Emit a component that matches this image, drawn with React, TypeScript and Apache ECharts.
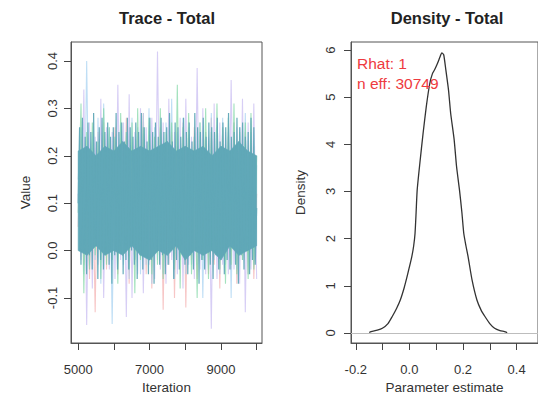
import React, { useEffect, useRef } from "react";
import * as echarts from "echarts";

// ---- Trace data (one array per chain) ----
const chainPink = [0.05, 0.24, -0.03, 0.22, -0.06, 0.21, -0.13, 0.25, 0.01, 0.27, -0.04, 0.2, 0.0, 0.26, -0.05, 0.23,
  0.02, 0.28, -0.07, 0.22, -0.02, 0.25, 0.03, 0.29, -0.05, 0.21, -0.08, 0.24, 0.0, 0.26, -0.125, 0.23,
  -0.03, 0.25, -0.1, 0.22, 0.01, 0.27, -0.12, 0.24, -0.02, 0.26, -0.06, 0.21, 0.0, 0.25, -0.05, 0.28,
  -0.03, 0.22, -0.08, 0.26, 0.02, 0.24, -0.04, 0.27, -0.07, 0.23, -0.02, 0.25, -0.05, 0.22, -0.06, 0.12];
const chainGreen = [0.08, 0.31, -0.09, 0.25, -0.04, 0.27, -0.01, 0.23, -0.06, 0.3, -0.03, 0.26, -0.02, 0.24, -0.07, 0.29,
  0.0, 0.25, -0.04, 0.27, -0.09, 0.3, -0.02, 0.26, 0.01, 0.28, -0.05, 0.24, -0.03, 0.3, -0.06, 0.25,
  0.0, 0.27, -0.04, 0.35, -0.08, 0.26, -0.01, 0.29, -0.05, 0.24, -0.1, 0.27, -0.02, 0.3, -0.06, 0.25,
  0.0, 0.31, -0.04, 0.26, -0.07, 0.28, -0.03, 0.31, -0.05, 0.25, -0.02, 0.27, -0.06, 0.29, -0.04, 0.2];
const chainLavender = [0.12, -0.02, 0.34, -0.157, 0.27, -0.08, 0.24, -0.03, 0.32, -0.1, 0.26, -0.04, 0.25, -0.06, 0.35, -0.02,
  0.27, -0.14, 0.33, -0.1, 0.25, -0.05, 0.3, -0.09, 0.26, -0.03, 0.28, -0.06, 0.42, -0.04, 0.27, -0.07,
  0.32, -0.02, 0.25, -0.05, 0.28, -0.08, 0.32, -0.03, 0.24, -0.06, 0.385, -0.04, 0.3, -0.05, 0.24, -0.165,
  0.31, -0.06, 0.27, -0.03, 0.25, -0.05, 0.36, -0.04, 0.26, -0.07, 0.32, -0.13, 0.27, -0.04, 0.31, -0.06];
const chainBlue = [0.15, 0.26, -0.05, 0.4, -0.03, 0.25, -0.02, 0.28, -0.07, 0.31, -0.01, 0.26, -0.155, 0.24, -0.04, 0.27,
  -0.03, 0.25, -0.06, 0.28, -0.02, 0.26, -0.05, 0.29, -0.03, 0.3, -0.07, 0.26, -0.02, 0.25, -0.05, 0.27,
  -0.03, 0.32, -0.06, 0.25, -0.02, 0.28, -0.05, 0.26, -0.03, 0.24, -0.03, 0.27, -0.1, 0.25, -0.04, 0.29,
  -0.02, 0.26, -0.05, 0.28, -0.03, 0.25, -0.1, 0.27, -0.04, 0.26, -0.02, 0.29, -0.05, 0.25, -0.03, 0.18];
const chainTeal = [0.1, 0.26, -0.03, 0.28, 0.0, 0.24, -0.05, 0.27, -0.01, 0.25, -0.04, 0.29, 0.01, 0.23, -0.06, 0.26,
  -0.02, 0.28, -0.04, 0.25, 0.0, 0.27, -0.03, 0.24, -0.07, 0.26, -0.01, 0.29, -0.04, 0.25, 0.01, 0.27,
  -0.05, 0.23, -0.02, 0.28, -0.04, 0.26, 0.0, 0.24, -0.03, 0.27, -0.06, 0.25, -0.01, 0.29, -0.04, 0.26,
  0.01, 0.23, -0.05, 0.28, -0.02, 0.25, -0.07, 0.27, 0.0, 0.24, -0.03, 0.28, -0.01, 0.25, -0.05, 0.26,
  -0.03, 0.29, 0.0, 0.23, -0.06, 0.27, -0.02, 0.26, -0.04, 0.24, 0.01, 0.28, -0.03, 0.25, -0.05, 0.27,
  -0.01, 0.23, -0.04, 0.29, 0.0, 0.26, -0.07, 0.25, -0.02, 0.28, -0.04, 0.24, 0.01, 0.27, -0.03, 0.26,
  -0.06, 0.25, -0.01, 0.28, -0.04, 0.23, 0.0, 0.27, -0.05, 0.26, -0.02, 0.29, -0.04, 0.24, 0.01, 0.25,
  -0.03, 0.28, -0.07, 0.26, -0.01, 0.27, -0.04, 0.24, 0.0, 0.25, -0.05, 0.28, -0.02, 0.26, -0.03, 0.09];
// dense core of the overlaid chains
const coreIter = [5001, 5250, 5500, 5750, 6000, 6250, 6500, 6750, 7000, 7250, 7500, 7750, 8000, 8250, 8500, 8750, 9000, 9250, 9500, 9750, 10000];
const coreLow = [0.0, -0.01, 0.01, -0.01, 0.0, -0.01, 0.01, -0.01, -0.02, 0.0, -0.01, 0.01, -0.02, 0.0, -0.01, 0.0, -0.02, 0.01, -0.01, 0.0, 0.01];
const coreHigh = [0.21, 0.22, 0.2, 0.22, 0.21, 0.23, 0.21, 0.22, 0.21, 0.22, 0.23, 0.21, 0.22, 0.21, 0.22, 0.2, 0.22, 0.21, 0.23, 0.21, 0.2];

const traceXTicks = [5000, 6000, 7000, 8000, 9000, 10000];
const traceXLabels = [5000, 7000, 9000];
const traceYTicks = [-0.1, 0.0, 0.1, 0.2, 0.3, 0.4];

// ---- Density data ----
const densX = [-0.15, -0.143, -0.12, -0.101, -0.08, -0.064, -0.048, -0.034, -0.02, -0.009, 0.0, 0.009, 0.016, 0.021, 0.025,
  0.029, 0.039, 0.051, 0.063, 0.076, 0.086, 0.094, 0.105, 0.114, 0.121, 0.128, 0.136, 0.146, 0.154, 0.167,
  0.176, 0.187, 0.196, 0.203, 0.211, 0.219, 0.234, 0.252, 0.268, 0.282, 0.3, 0.318, 0.338, 0.355, 0.365];
const densY = [0.01, 0.03, 0.06, 0.1, 0.2, 0.35, 0.52, 0.7, 0.95, 1.19, 1.4, 1.62, 1.85, 2.11, 2.55,
  3.03, 3.6, 4.23, 4.8, 5.29, 5.5, 5.58, 5.72, 5.85, 5.94, 5.9, 5.58, 5.15, 4.66, 4.1,
  3.53, 3.03, 2.55, 2.11, 1.85, 1.62, 1.12, 0.7, 0.48, 0.35, 0.2, 0.1, 0.05, 0.03, 0.01];
const densXTicks = [-0.2, -0.1, 0.0, 0.1, 0.2, 0.3, 0.4];
const densXLabels = [-0.2, 0.0, 0.2, 0.4];
const densYTicks = [0, 1, 2, 3, 4, 5, 6];

const rhatText = "Rhat: 1";
const neffText = "n eff: 30749";

const FONT = "'Liberation Sans', Arial, Helvetica, sans-serif";
const TEAL = "#60a8b7";

function toPairs(vals: number[]) {
  const n = vals.length;
  return vals.map((v, i) => [5001 + (i * 4999) / (n - 1), v]);
}

export default function App() {
  const ref = useRef<HTMLDivElement>(null);
  useEffect(() => {
    if (!ref.current) return;
    const chart = echarts.init(ref.current, null, { renderer: "svg" });
    const axisCommon = {
      axisLine: { show: true, onZero: false, lineStyle: { color: "#555", width: 1 } },
      splitLine: { show: false },
      nameTextStyle: { fontSize: 13.5, color: "#333", fontFamily: FONT },
    };
    const tickStyle = { length: 7, lineStyle: { color: "#444", width: 1 } };
    const labelStyle = { fontSize: 13, color: "#333", fontFamily: FONT };
    const chainSeries = (data: number[], color: string, opacity: number, width: number, z: number) => ({
      type: "line",
      xAxisIndex: 0,
      yAxisIndex: 0,
      data: toPairs(data),
      showSymbol: false,
      symbol: "none",
      lineStyle: { color, width, opacity },
      z,
      silent: true,
    });
    chart.setOption({
      animation: false,
      backgroundColor: "#fff",
      grid: [
        { left: 71, top: 42, width: 191, height: 301, show: true, borderColor: "#555", borderWidth: 1 },
        { left: 351, top: 42, width: 191.6, height: 301, show: true, borderColor: "#555", borderWidth: 1 },
      ],
      xAxis: [
        {
          ...axisCommon,
          type: "value",
          gridIndex: 0,
          min: 4800,
          max: 10150,
          name: "Iteration",
          nameLocation: "middle",
          nameGap: 35,
          axisTick: { ...tickStyle, customValues: traceXTicks },
          axisLabel: { ...labelStyle, customValues: traceXLabels, margin: 20, formatter: (v: number) => String(v) },
        },
        {
          ...axisCommon,
          type: "value",
          gridIndex: 1,
          min: -0.218,
          max: 0.48,
          name: "Parameter estimate",
          nameLocation: "middle",
          nameGap: 34,
          axisTick: { ...tickStyle, customValues: densXTicks },
          axisLabel: { ...labelStyle, customValues: densXLabels, margin: 20, formatter: (v: number) => v.toFixed(1) },
        },
      ],
      yAxis: [
        {
          ...axisCommon,
          type: "value",
          gridIndex: 0,
          min: -0.195,
          max: 0.44,
          name: "Value",
          nameLocation: "middle",
          nameGap: 39,
          axisTick: { ...tickStyle, customValues: traceYTicks },
          axisLabel: { ...labelStyle, customValues: traceYTicks, rotate: 90, margin: 12, formatter: (v: number) => v.toFixed(1) },
        },
        {
          ...axisCommon,
          type: "value",
          gridIndex: 1,
          min: -0.212,
          max: 6.17,
          name: "Density",
          nameLocation: "middle",
          nameGap: 44,
          axisTick: { ...tickStyle, customValues: densYTicks },
          axisLabel: { ...labelStyle, customValues: densYTicks, rotate: 90, margin: 14, formatter: (v: number) => String(v) },
        },
      ],
      series: [
        chainSeries(chainPink, "#f3a7a7", 0.65, 1.1, 2),
        chainSeries(chainBlue, "#9ccdf0", 0.65, 1.1, 2),
        chainSeries(chainGreen, "#7dd6a2", 0.7, 1.1, 2),
        chainSeries(chainLavender, "#c2b4f0", 0.65, 1.1, 2),
        {
          type: "custom",
          xAxisIndex: 0,
          yAxisIndex: 0,
          clip: true,
          z: 3,
          silent: true,
          data: coreIter.map((x, i) => [x, coreLow[i], coreHigh[i]]),
          encode: { x: 0, y: [1, 2] },
          renderItem: (params: any, api: any) => {
            const i = params.dataIndex;
            if (i >= coreIter.length - 1) return null;
            const p1 = api.coord([coreIter[i], coreLow[i]]);
            const p2 = api.coord([coreIter[i + 1], coreLow[i + 1]]);
            const p3 = api.coord([coreIter[i + 1], coreHigh[i + 1]]);
            const p4 = api.coord([coreIter[i], coreHigh[i]]);
            return {
              type: "polygon",
              shape: { points: [p1, p2, p3, p4] },
              style: { fill: TEAL, stroke: TEAL, lineWidth: 0.6 },
            };
          },
        },
        chainSeries(chainTeal, TEAL, 0.95, 1.2, 4),
        {
          type: "line",
          xAxisIndex: 1,
          yAxisIndex: 1,
          data: densX.map((x, i) => [x, densY[i]]),
          symbol: "none",
          smooth: 0.2,
          lineStyle: { color: "#333", width: 1.3 },
          z: 4,
          silent: true,
          markLine: {
            silent: true,
            symbol: ["none", "none"],
            label: { show: false },
            lineStyle: { color: "#bdbdbd", type: "solid", width: 1 },
            data: [{ yAxis: 0 }],
          },
        },
      ],
      graphic: [
        {
          type: "text",
          x: 167,
          y: 18,
          style: { text: "Trace - Total", font: `bold 16.5px ${FONT}`, fill: "#222", textAlign: "center", textVerticalAlign: "middle", align: "center", verticalAlign: "middle" },
        },
        {
          type: "text",
          x: 447,
          y: 18,
          style: { text: "Density - Total", font: `bold 16.5px ${FONT}`, fill: "#222", textAlign: "center", textVerticalAlign: "middle", align: "center", verticalAlign: "middle" },
        },
        {
          type: "text",
          x: 357,
          y: 63,
          z: 10,
          style: { text: rhatText, font: `15.5px ${FONT}`, fill: "#ee3a40", textAlign: "left", textVerticalAlign: "middle", align: "left", verticalAlign: "middle" },
        },
        {
          type: "text",
          x: 357,
          y: 83,
          z: 10,
          style: { text: neffText, font: `15.5px ${FONT}`, fill: "#ee3a40", textAlign: "left", textVerticalAlign: "middle", align: "left", verticalAlign: "middle" },
        },
      ],
    });
    return () => chart.dispose();
  }, []);
  return (
    <div
      ref={ref}
      style={{ position: "fixed", left: 0, top: 0, width: 538, height: 409, background: "#fff" }}
    />
  );
}
